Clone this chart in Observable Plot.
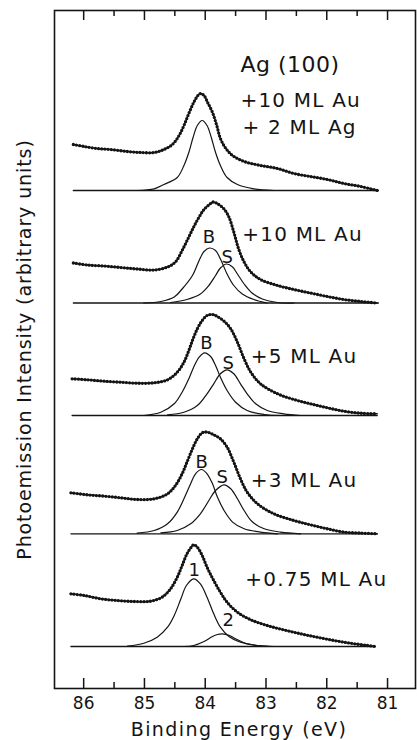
<!DOCTYPE html>
<html><head><meta charset="utf-8">
<script src="https://cdn.jsdelivr.net/npm/d3@7"></script>
<script src="https://cdn.jsdelivr.net/npm/@observablehq/plot@0.6"></script>
<style>html,body{margin:0;padding:0;background:#fff}</style>
</head><body><div id="chart"></div>
<script>
// ---- axis ----
const majorTicks = [86, 85, 84, 83, 82, 81];
const minorTicks = [85.5, 84.5, 83.5, 82.5, 81.5];
const xLabel = "Binding Energy (eV)";
const yLabel = "Photoemission Intensity (arbitrary units)";

// vertical stacking offsets of each spectrum (arbitrary units)
const offsets = [498, 385.5, 273, 154.7, 42];

// ---- panel 1: +10 ML Au + 2 ML Ag ----
const p1E = [86.17, 85.99, 85.78, 85.56, 85.28, 85.06, 84.84, 84.68, 84.54, 84.43, 84.35, 84.27, 84.19, 84.12, 84.08, 84.02, 83.96, 83.88, 83.81, 83.75, 83.66, 83.55, 83.36, 83.09, 82.81, 82.54, 82.27, 81.99, 81.72, 81.44, 81.17];
const p1I = [46, 44, 42, 41, 39, 38, 38, 41, 46, 55, 65, 77, 88, 95, 97, 95, 88, 78, 65, 52, 42, 35, 29, 25, 22, 17, 14, 11, 7, 4, 0];
const p1aE = [85.12, 84.84, 84.68, 84.46, 84.35, 84.27, 84.20, 84.13, 84.05, 83.97, 83.90, 83.83, 83.75, 83.64, 83.47, 83.20, 82.87];
const p1aI = [0, 1.7, 6, 13, 25, 38, 53, 65, 70, 65, 53, 38, 25, 13, 6, 1.7, 0];
const p1Base = [86.17, 81.15];

// ---- panel 2: +10 ML Au ----
const p2E = [86.17, 85.94, 85.67, 85.39, 85.12, 84.84, 84.62, 84.49, 84.38, 84.27, 84.19, 84.10, 84.02, 83.94, 83.87, 83.79, 83.69, 83.61, 83.53, 83.45, 83.36, 83.25, 83.09, 82.81, 82.54, 82.27, 81.99, 81.72, 81.44, 81.17];
const p2I = [40, 38, 37, 35.5, 34, 33, 36, 41, 52.5, 66, 76, 86, 93.5, 98, 101, 99, 94, 86, 71, 54, 41, 31, 23.5, 17.5, 13.5, 10, 6.5, 3.5, 1.5, 0];
const p2BE = [85.01, 84.73, 84.51, 84.38, 84.21, 84.10, 84.02, 83.93, 83.83, 83.75, 83.64, 83.53, 83.39, 83.20, 82.98];
const p2BI = [0, 1.5, 6, 14, 27.5, 42.5, 51.5, 55, 52.5, 44, 29, 17.5, 9, 3.5, 0];
const p2SE = [84.57, 84.30, 84.08, 83.94, 83.83, 83.75, 83.65, 83.55, 83.47, 83.36, 83.23, 83.06, 82.81, 82.54];
const p2SI = [0.5, 3.5, 9, 17.5, 27.5, 35, 39, 36, 29, 19, 10, 4, 0.5, 0];
const p2Base = [86.17, 81.15];

// ---- panel 3: +5 ML Au ----
const p3E = [86.19, 85.94, 85.67, 85.39, 85.12, 84.84, 84.62, 84.46, 84.35, 84.27, 84.20, 84.13, 84.05, 83.97, 83.88, 83.80, 83.69, 83.58, 83.47, 83.36, 83.25, 83.09, 82.81, 82.54, 82.27, 81.99, 81.72, 81.44, 81.17];
const p3I = [36.7, 35.7, 34.3, 33.3, 32.3, 32.7, 35.7, 43.3, 53.3, 65, 76.7, 86.7, 95, 100, 101, 99, 94.3, 86.7, 73.3, 56.7, 43.3, 31.7, 21.7, 16, 11.7, 7.7, 4.3, 2.3, 1.7];
const p3BE = [85.01, 84.73, 84.51, 84.38, 84.27, 84.19, 84.10, 84.01, 83.91, 83.83, 83.75, 83.64, 83.50, 83.31, 83.03, 82.76];
const p3BI = [0, 3.3, 11.7, 23.3, 36.7, 48.3, 58.3, 62.7, 59, 50, 38.3, 25, 13.3, 5, 1, 0];
const p3SE = [84.62, 84.35, 84.13, 83.97, 83.86, 83.75, 83.64, 83.53, 83.42, 83.31, 83.17, 82.98, 82.71, 82.43];
const p3SI = [0.7, 3.3, 10, 21.7, 31.7, 41.7, 45.7, 41.7, 31.7, 21.7, 11.7, 5, 1.7, 0];
const p3Base = [86.19, 81.17];

// ---- panel 4: +3 ML Au ----
const p4E = [86.21, 85.94, 85.67, 85.39, 85.12, 84.84, 84.62, 84.49, 84.38, 84.30, 84.21, 84.13, 84.05, 83.97, 83.86, 83.75, 83.64, 83.53, 83.42, 83.31, 83.14, 82.87, 82.54, 82.27, 81.99, 81.72, 81.44, 81.17];
const p4I = [41, 39, 37.7, 36, 34.3, 35, 40, 48.3, 60, 71.7, 85, 95, 101, 101.7, 99, 95, 86.7, 71.7, 55, 41.7, 30, 20, 13.3, 9, 5, 1.7, 0.7, 0];
const p4BE = [85.12, 84.84, 84.62, 84.46, 84.35, 84.24, 84.16, 84.06, 83.97, 83.88, 83.80, 83.69, 83.55, 83.36, 83.09, 82.81];
const p4BI = [0.7, 3.3, 10, 21.7, 35, 50, 60, 64.3, 60, 50, 36.7, 23.3, 11.7, 5, 1.7, 0];
const p4SE = [84.73, 84.46, 84.24, 84.08, 83.94, 83.83, 83.69, 83.58, 83.47, 83.36, 83.23, 83.03, 82.76, 82.43];
const p4SI = [1, 3.3, 10, 20, 33.3, 43.3, 49, 45, 35, 23.3, 12.3, 5, 1.7, 0];
const p4Base = [86.21, 81.17];

// ---- panel 5: +0.75 ML Au ----
const p5E = [86.21, 85.99, 85.72, 85.45, 85.17, 84.90, 84.71, 84.57, 84.46, 84.38, 84.30, 84.23, 84.19, 84.13, 84.05, 83.97, 83.86, 83.75, 83.64, 83.47, 83.25, 82.98, 82.71, 82.43, 82.16, 81.88, 81.61, 81.33, 81.20];
const p5I = [52.7, 51, 47.7, 46, 45, 45.3, 49.3, 57.7, 69.3, 81, 92.7, 99.3, 101.7, 99.3, 91, 79.3, 66, 54.3, 44.3, 34.3, 26.7, 21, 16.7, 12.7, 9.3, 6, 3.3, 1, 0];
const p5aE = [85.28, 85.01, 84.79, 84.62, 84.51, 84.40, 84.31, 84.19, 84.08, 83.97, 83.86, 83.75, 83.61, 83.42, 83.14, 82.87];
const p5aI = [0.5, 3.3, 9.3, 19.3, 31, 47.7, 61, 67.7, 62.7, 49.3, 32.7, 19.3, 10, 4.3, 1, 0];
const p5bE = [84.35, 84.19, 84.02, 83.88, 83.80, 83.72, 83.61, 83.50, 83.36, 83.14, 82.92];
const p5bI = [0, 1, 5, 10, 12, 12.7, 11.3, 7.7, 3.7, 1, 0];
const p5Base = [86.21, 81.20];

// ---- annotations (energy, arbitrary units) ----
const titleText = ["Ag (100)"];
const titleE = [83.42];
const titleV = [617];
const condText = ["+10 ML Au", "+ 2 ML Ag", "+10 ML Au", "+5 ML Au", "+3 ML Au", "+0.75 ML Au"];
const condE = [83.42, 83.385, 83.39, 83.25, 83.25, 83.34];
const condV = [582, 555, 448, 326, 202, 103];
const peakText = ["B", "S", "B", "S", "B", "S", "1", "2"];
const peakE = [83.94, 83.64, 83.98, 83.62, 84.06, 83.72, 84.18, 83.62];
const peakV = [446, 426, 340, 320, 221, 206, 113, 63];

// ---- build tables ----
const panels = [
  {spec: [p1E, p1I], comps: [[p1aE, p1aI]], base: p1Base},
  {spec: [p2E, p2I], comps: [[p2BE, p2BI], [p2SE, p2SI]], base: p2Base},
  {spec: [p3E, p3I], comps: [[p3BE, p3BI], [p3SE, p3SI]], base: p3Base},
  {spec: [p4E, p4I], comps: [[p4BE, p4BI], [p4SE, p4SI]], base: p4Base},
  {spec: [p5E, p5I], comps: [[p5aE, p5aI], [p5bE, p5bI]], base: p5Base}
];
const specRows = [], compRows = [], baseRows = [];
panels.forEach((p, k) => {
  const off = offsets[k];
  p.spec[0].forEach((e, i) => specRows.push({E: e, v: off + p.spec[1][i], key: "s" + k}));
  p.comps.forEach((c, j) => c[0].forEach((e, i) => compRows.push({E: e, v: off + c[1][i], key: "c" + k + "_" + j})));
  p.base.forEach(e => baseRows.push({E: e, v: off, key: "b" + k}));
});
const zip = (t, e, v) => t.map((s, i) => ({text: s, E: e[i], v: v[i]}));

const ink = "#141414";
const yTop = 678;
const chart = Plot.plot({
  width: 417,
  height: 740,
  marginLeft: 54,
  marginRight: 2,
  marginTop: 10,
  marginBottom: 52,
  x: {domain: [86.48, 80.54]},
  y: {domain: [0, yTop], axis: null},
  style: {fontFamily: "DejaVu Sans, sans-serif", fontSize: "17px", color: ink, background: "#fff"},
  marks: [
    Plot.frame({stroke: ink, strokeWidth: 1.6}),
    Plot.ruleX(majorTicks, {y1: 0, y2: 10, stroke: ink, strokeWidth: 1.5}),
    Plot.ruleX(minorTicks, {y1: 0, y2: 6, stroke: ink, strokeWidth: 1.5}),
    Plot.ruleX(majorTicks, {y1: yTop - 10, y2: yTop, stroke: ink, strokeWidth: 1.5}),
    Plot.ruleX(minorTicks, {y1: yTop - 6, y2: yTop, stroke: ink, strokeWidth: 1.5}),
    Plot.axisX(majorTicks, {anchor: "bottom", tickSize: 0, tickPadding: 8, tickFormat: d => String(d), fontSize: 17, label: null}),
    Plot.text([xLabel], {frameAnchor: "bottom", dx: 4, dy: 47, lineAnchor: "bottom", textAnchor: "middle", fontSize: 19, fill: ink}),
    Plot.line(baseRows, {x: "E", y: "v", z: "key", stroke: ink, strokeWidth: 1.3}),
    Plot.line(compRows, {x: "E", y: "v", z: "key", stroke: ink, strokeWidth: 1.2, curve: "catmull-rom"}),
    Plot.line(specRows, {x: "E", y: "v", z: "key", stroke: ink, strokeWidth: 1.4, curve: "catmull-rom"}),
    Plot.line(specRows, {x: "E", y: "v", z: "key", stroke: ink, strokeWidth: 3.3, strokeDasharray: "0 3.2", strokeLinecap: "round", curve: "catmull-rom"}),
    Plot.text(zip(titleText, titleE, titleV), {x: "E", y: "v", text: "text", textAnchor: "start", lineAnchor: "bottom", fontSize: 22, fill: ink}),
    Plot.text(zip(condText, condE, condV), {x: "E", y: "v", text: "text", textAnchor: "start", lineAnchor: "bottom", fontSize: 20, fill: ink}),
    Plot.text(zip(peakText, peakE, peakV), {x: "E", y: "v", text: "text", textAnchor: "middle", lineAnchor: "bottom", fontSize: 18, fill: ink}),
    Plot.text([yLabel], {frameAnchor: "left", dx: -30, rotate: -90, textAnchor: "middle", fontSize: 19, fill: ink})
  ]
});
// widen letter spacing like the original lettering
chart.querySelectorAll("text").forEach(t => {
  const s = t.textContent;
  if (condText.includes(s)) t.setAttribute("letter-spacing", "1.2");
  if (titleText.includes(s)) t.setAttribute("letter-spacing", "0.5");
  if (s === xLabel) t.setAttribute("letter-spacing", "1.4");
  if (s === yLabel) t.setAttribute("letter-spacing", "0.9");
});
document.getElementById("chart").appendChild(chart);
</script>
</body></html>
